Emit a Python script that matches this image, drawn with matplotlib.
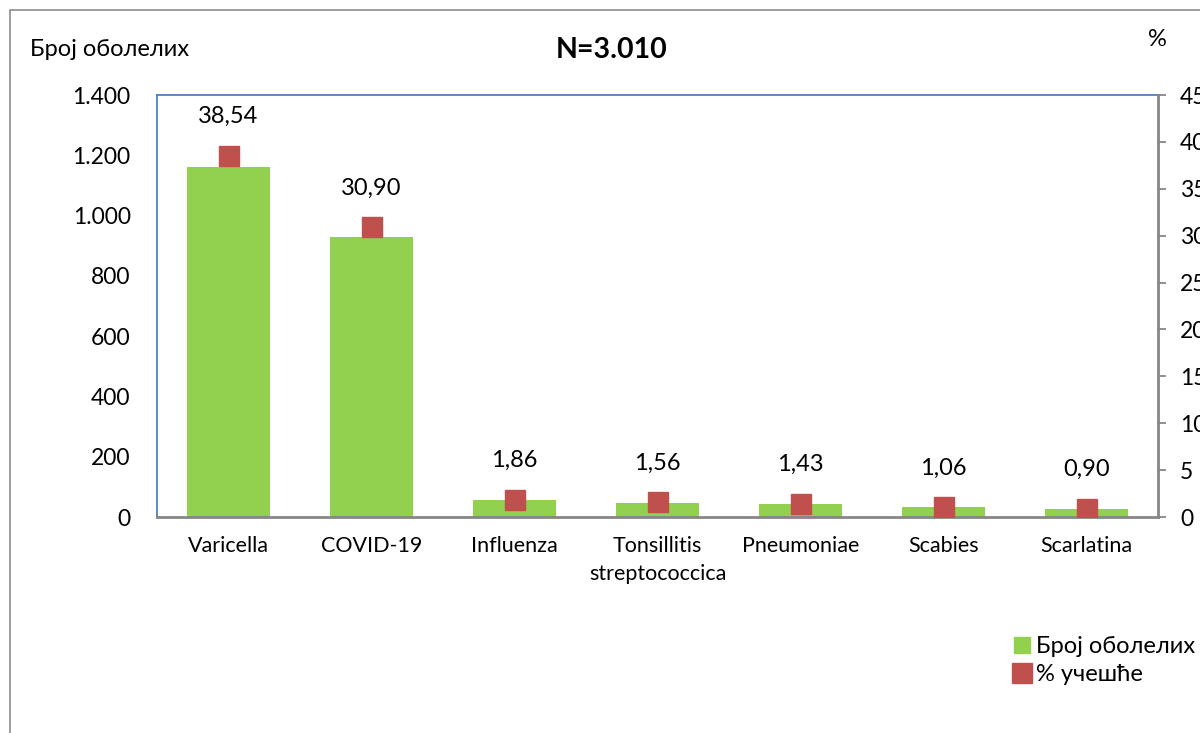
import matplotlib
matplotlib.use("Agg")
import matplotlib.pyplot as plt
from matplotlib.patches import Rectangle
from matplotlib.lines import Line2D

categories = ["Varicella", "COVID-19", "Influenza", "Tonsillitis\nstreptococcica",
              "Pneumoniae", "Scabies", "Scarlatina"]
cases = [1160, 930, 56, 47, 43, 32, 27]
percent = [38.54, 30.90, 1.86, 1.56, 1.43, 1.06, 0.90]
left_ticks = [0, 200, 400, 600, 800, 1000, 1200, 1400]
left_tick_labels = ["0", "200", "400", "600", "800", "1.000", "1.200", "1.400"]
right_ticks = [0, 5, 10, 15, 20, 25, 30, 35, 40, 45]

plt.rcParams['font.family'] = ['Lato', 'DejaVu Sans']

fig = plt.figure(figsize=(12, 7.33), dpi=100)
W, H = 1200, 733

def fx(px):
    return px / W

def fy(py):
    return 1 - py / H

# outer border
fig.patches.append(Rectangle((fx(10), fy(740)), fx(1300) - fx(10), fy(10) - fy(740),
                             transform=fig.transFigure, fill=False,
                             edgecolor="#8c8c8c", linewidth=1.2))

ax = fig.add_axes([fx(157), fy(517), fx(1158) - fx(157), fy(95) - fy(517)])
x = list(range(len(categories)))
ax.bar(x, cases, width=0.575, color="#92D050", zorder=2)
ax.set_xlim(-0.5, len(categories) - 0.5)
ax.set_ylim(0, 1400)
ax.set_yticks(left_ticks)
ax.set_yticklabels(left_tick_labels)
ax.tick_params(axis='y', length=0, pad=19, labelsize=16.5, colors="black")
ax.set_xticks(x)
ax.set_xticklabels(categories, fontsize=15.5, linespacing=1.5)
ax.tick_params(axis='x', length=0, pad=14)
for s in ("left", "top"):
    ax.spines[s].set_color("#4F81BD")
    ax.spines[s].set_linewidth(1.3)
ax.spines["bottom"].set_color("#868686")
ax.spines["bottom"].set_linewidth(2)
ax.spines["right"].set_visible(False)

ax2 = ax.twinx()
ax2.set_ylim(0, 45)
ax2.set_yticks(right_ticks)
ax2.tick_params(axis='y', length=6, width=1.3, color="#868686", pad=10, labelsize=16.5)
ax2.plot(x, percent, linestyle="none", marker="s", markersize=14.5,
         color="#C0504D", zorder=3)
for xi, p in zip(x, percent):
    ax2.annotate(f"{p:.2f}".replace(".", ","), (xi, p), xytext=(0, 39),
                 textcoords="offset pixels", ha="center", va="center", fontsize=17)
for s in ("left", "top", "bottom"):
    ax2.spines[s].set_visible(False)
ax2.spines["right"].set_color("#868686")
ax2.spines["right"].set_linewidth(2)

fig.text(fx(30), fy(50), "Број оболелих", fontsize=17, va="center", ha="left")
fig.text(fx(1157), fy(40), "%", fontsize=17, va="center", ha="center")
fig.text(fx(612), fy(50), "N=3.010", fontsize=20.5, fontweight="bold", va="center", ha="center")

handles = [Line2D([], [], linestyle="none", marker="s", markersize=11, color="#92D050"),
           Line2D([], [], linestyle="none", marker="s", markersize=14, color="#C0504D")]
fig.legend(handles, ["Број оболелих", "% учешће"], loc="upper left",
           bbox_to_anchor=(fx(996), fy(624)), frameon=False, fontsize=17,
           handletextpad=0.0, handlelength=1.2, labelspacing=0.3, borderpad=0)

fig.savefig("out.png", dpi=100)
